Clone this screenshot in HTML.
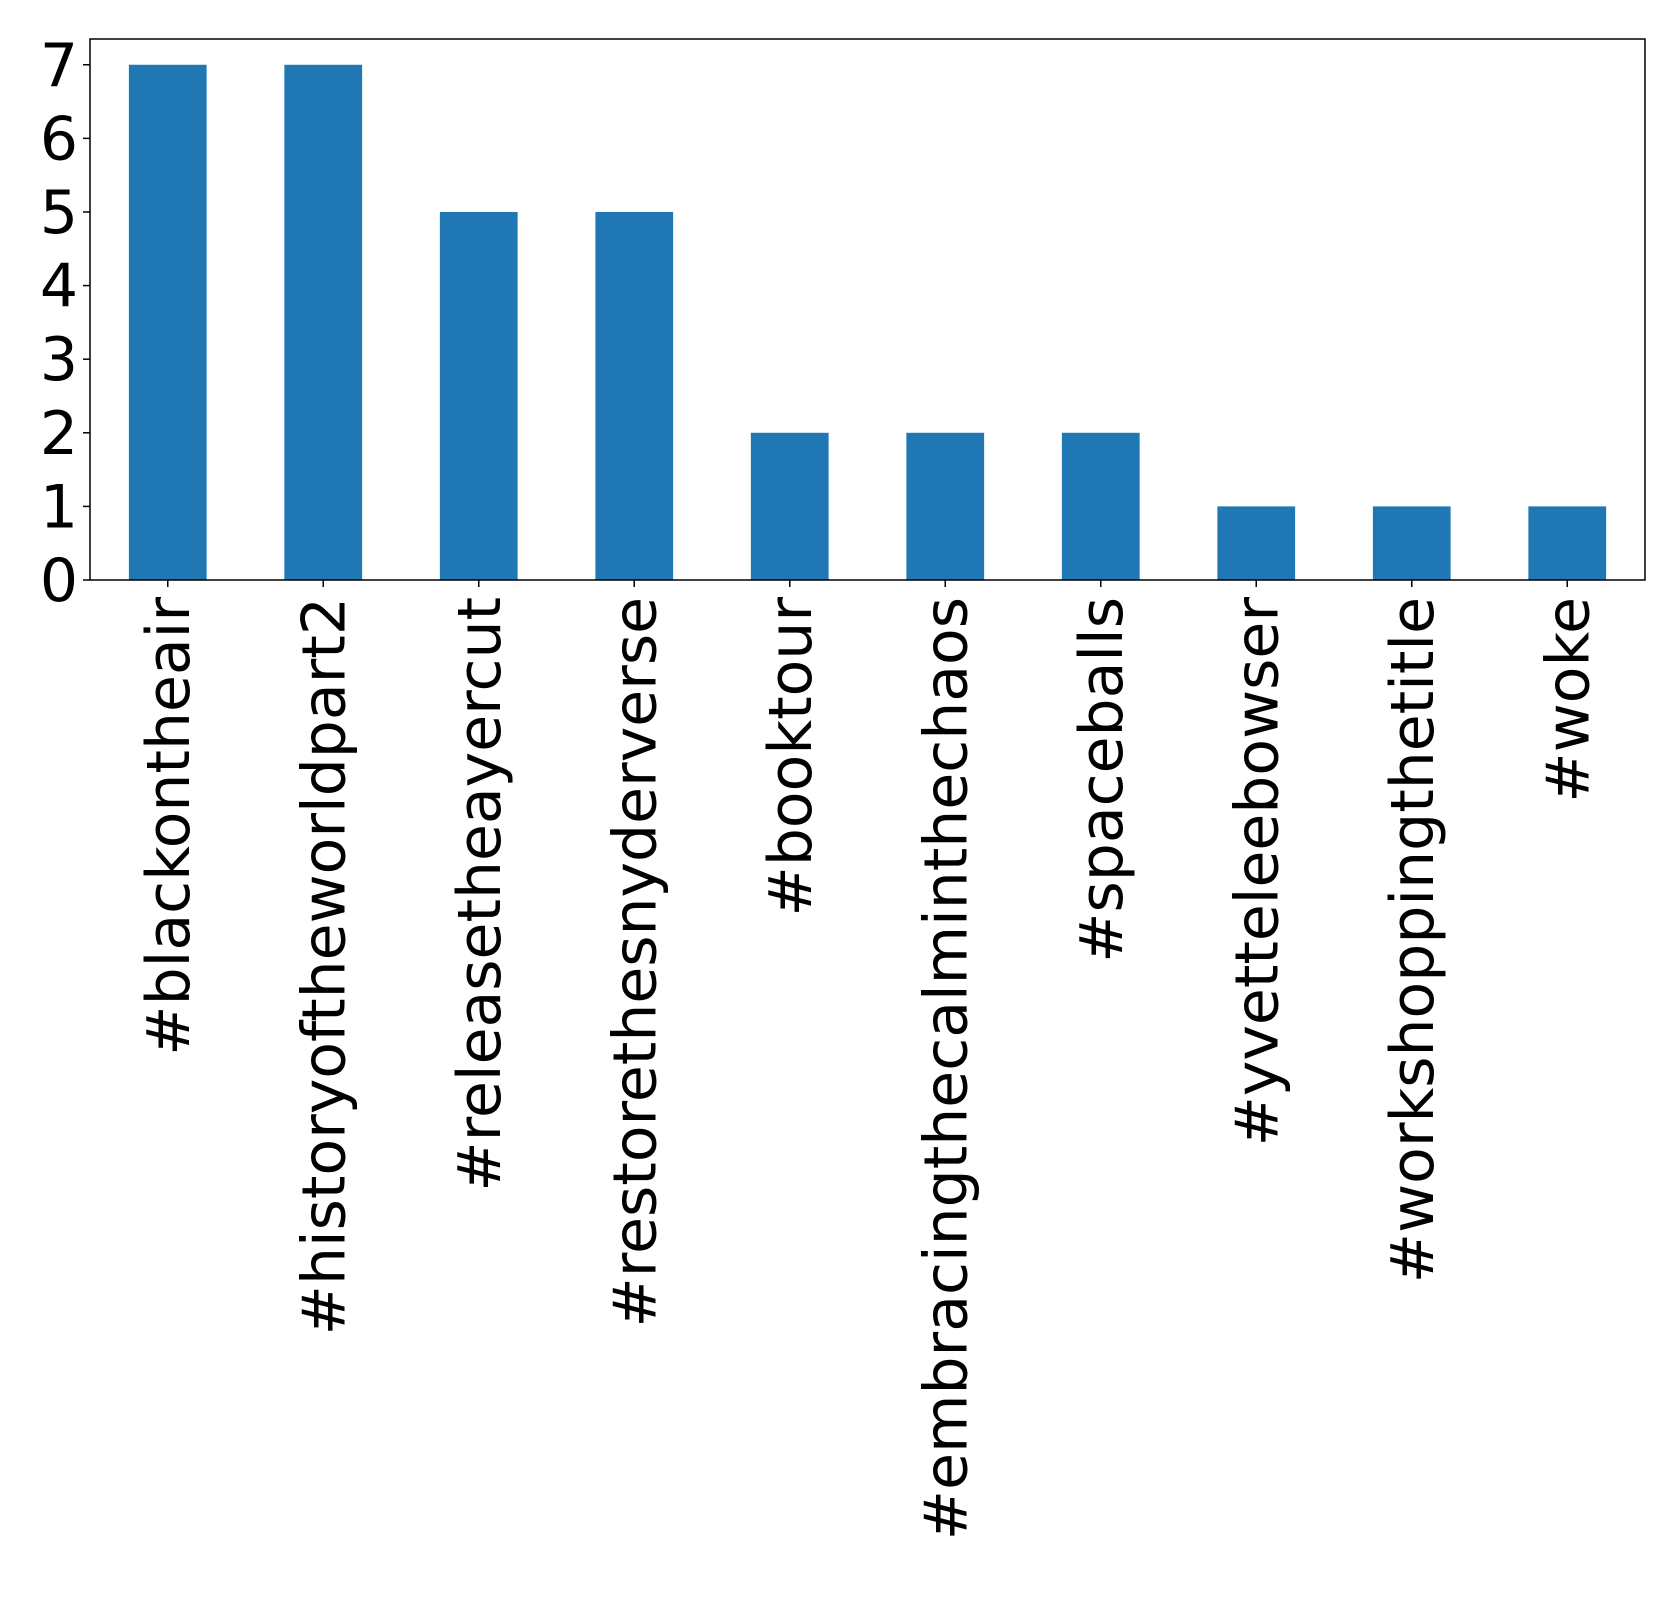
<!DOCTYPE html>
<html><head><meta charset="utf-8"><style>html,body{margin:0;padding:0;background:#fff}svg{display:block}</style></head>
<body>
<svg id="chart" width="1679" height="1610" xmlns="http://www.w3.org/2000/svg" font-family="DejaVu Sans, Liberation Sans, sans-serif">
<rect width="1679" height="1610" fill="#fff"/>
<g id="bars"></g><g id="axes"></g>
</svg>
<script>
const categories = ["#blackontheair","#historyoftheworldpart2","#releasetheayercut","#restorethesnyderverse","#booktour","#embracingthecalminthechaos","#spaceballs","#yvetteleebowser","#workshoppingthetitle","#woke"];
const values = [7,7,5,5,2,2,2,1,1,1];
const yTicks = [0,1,2,3,4,5,6,7];
const L=90,R=1645,T=39,B=580,yMax=7.35;
const ns="http://www.w3.org/2000/svg";
const xs=i=>L+(i+0.5)*(R-L)/categories.length;
const ys=v=>B-v*(B-T)/yMax;
const bw=0.5*(R-L)/categories.length;
const bars=document.getElementById('bars'),axes=document.getElementById('axes');
function mk(t,a,p){const e=document.createElementNS(ns,t);for(const k in a)e.setAttribute(k,a[k]);p.appendChild(e);return e;}
values.forEach((v,i)=>{
 const r=mk('rect',{x:xs(i)-bw/2,y:ys(v),width:bw,height:B-ys(v),fill:'#1f77b4'},bars);
 
 
 const tk=mk('line',{x1:xs(i),x2:xs(i),y1:B,y2:B+7,stroke:'#000','stroke-width':1.5},axes);
 
 
 const tx=mk('text',{transform:`translate(${xs(i)+21},${B+17}) rotate(-90)`,'text-anchor':'end','font-size':60,fill:'#000'},axes);
 tx.textContent=categories[i];
 
 
});
yTicks.forEach(t=>{
 const tk=mk('line',{x1:L-7,x2:L,y1:ys(t),y2:ys(t),stroke:'#000','stroke-width':1.5},axes);
 
 
 const tx=mk('text',{x:L-12,y:ys(t)+21,'text-anchor':'end','font-size':60,fill:'#000'},axes);
 tx.textContent=t;
 
 
});
const fr=mk('rect',{x:L,y:T,width:R-L,height:B-T,fill:'none',stroke:'#000','stroke-width':1.5},axes);


</script>
</body></html>
